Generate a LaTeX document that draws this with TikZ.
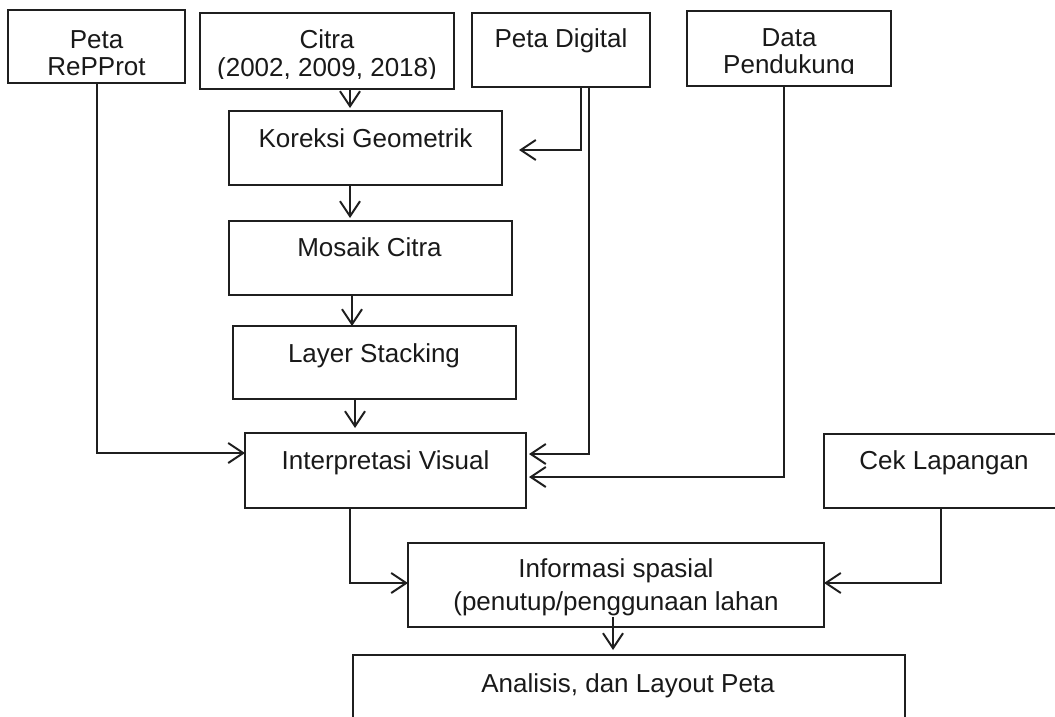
\documentclass[tikz,border=0pt]{standalone}
\usepackage{fontspec}
\setmainfont{Liberation Sans}
\usetikzlibrary{arrows.meta}
\tikzset{
  box/.style={draw=black!88, line width=2.2pt, rectangle, outer sep=0pt, inner sep=0pt},
  txt/.style={font=\fontsize{26}{30}\selectfont, inner sep=0pt, anchor=base, text=black!90},
  arr/.style={draw=black!88, line width=2pt, -{Straight Barb[length=15pt,width=20pt]}},
}
\begin{document}
\begin{tikzpicture}[x=1pt,y=-1pt]
\useasboundingbox (0,0) rectangle (1055,717);
\clip (0,0) rectangle (1055,717);

% boxes
\node[box, minimum width=177pt, minimum height=73pt] (rp) at (96.5,46.5) {};
\node[box, minimum width=254pt, minimum height=76pt] (ci) at (327,51) {};
\node[box, minimum width=178pt, minimum height=74pt] (pd) at (561,50) {};
\node[box, minimum width=204pt, minimum height=75pt] (dp) at (789,48.5) {};
\node[box, minimum width=273pt, minimum height=74pt] (ko) at (365.5,148) {};
\node[box, minimum width=283pt, minimum height=74pt] (mo) at (370.5,258) {};
\node[box, minimum width=283pt, minimum height=73pt] (la) at (374.5,362.5) {};
\node[box, minimum width=281pt, minimum height=75pt] (in) at (385.5,470.5) {};
\node[box, minimum width=240pt, minimum height=74pt] (ce) at (944,471) {};
\node[box, minimum width=416pt, minimum height=84pt] (if) at (616,585) {};
\node[box, minimum width=552pt, minimum height=90pt] (an) at (629,700) {};

% texts
\node[txt] (rpA) at (96.5,49) {Peta};
\begin{scope}
  \clip (0,0) rectangle (1055,77);
  \node[txt] (rpB) at (96.5,76) {RePProt};
\end{scope}
\node[txt] (ciA) at (327,49) {Citra};
\begin{scope}
  \clip (0,0) rectangle (1055,79);
  \node[txt] (ciB) at (327,77) {(2002, 2009, 2018)};
\end{scope}
\node[txt] (pdA) at (561,48) {Peta Digital};
\node[txt] (dpA) at (789,47) {Data};
\begin{scope}
  \clip (0,0) rectangle (1055,74);
  \node[txt] (dpB) at (789,74) {Pendukung};
\end{scope}
\node[txt] (koA) at (365.5,147) {Koreksi Geometrik};
\node[txt] (moA) at (369.5,256) {Mosaik Citra};
\node[txt] (laA) at (374,362) {Layer Stacking};
\node[txt] (inA) at (385.5,469) {Interpretasi Visual};
\node[txt] (ceA) at (944,469) {Cek Lapangan};
\node[txt] (ifA) at (616,577) {Informasi spasial};
\node[txt] (ifB) at (616,610) {(penutup/penggunaan lahan};
\node[txt] (anA) at (628,692) {Analisis, dan Layout Peta};

% connectors
\draw[arr] (rp.south) |- ([yshift=17.5pt]in.west);
\draw[arr, shorten >=3pt] ([xshift=23pt]ci.south) -- ([xshift=-15.5pt]ko.north);
\draw[arr, shorten >=17pt] ([xshift=20pt]pd.south) |- ([yshift=-2pt]ko.east);
\draw[arr, shorten >=3pt] ([xshift=28pt]pd.south) |- ([yshift=16.5pt]in.east);
\draw[arr, shorten >=3pt] ([xshift=-5pt]dp.south) |- ([yshift=-6.5pt]in.east);
\draw[arr, shorten >=3pt] ([xshift=-15.5pt]ko.south) -- ([xshift=-20.5pt]mo.north);
\draw[arr] ([xshift=-18.5pt]mo.south) -- ([xshift=-22.5pt]la.north);
\draw[arr, shorten >=5pt] ([xshift=-19.5pt]la.south) -- ([xshift=-30.5pt]in.north);
\draw[arr] ([xshift=-35.5pt]in.south) |- ([yshift=2pt]if.west);
\draw[arr] ([xshift=-3pt]ce.south) |- ([yshift=2pt]if.east);
\draw[arr, shorten >=5pt] ([xshift=-3pt,yshift=10pt]if.south) -- ([xshift=-16pt]an.north);
\end{tikzpicture}
\end{document}
